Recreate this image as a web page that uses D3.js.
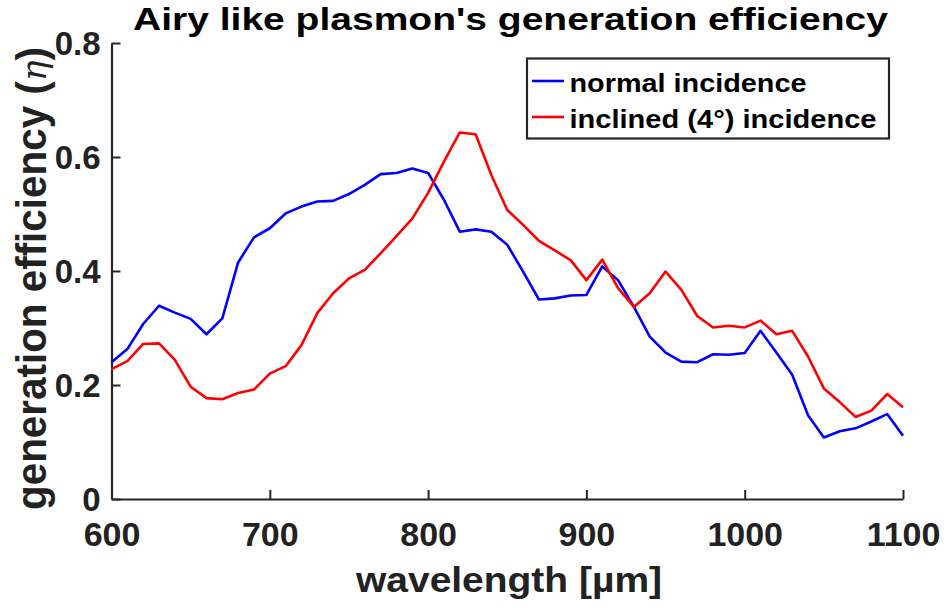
<!DOCTYPE html>
<html>
<head>
<meta charset="utf-8">
<script src="https://cdn.jsdelivr.net/npm/d3@7"></script>
<style>
  html, body { margin: 0; padding: 0; background: #fff; }
  svg { display: block; font-family: "Liberation Sans", Arial, Helvetica, sans-serif; }
</style>
</head>
<body>
<svg id="chart" width="944" height="608"></svg>
<script>
const wavelengths = [600,610,620,630,640,650,660,670,680,690,700,710,720,730,740,750,760,770,780,790,800,810,820,830,840,850,860,870,880,890,900,910,920,930,940,950,960,970,980,990,1000,1010,1020,1030,1040,1050,1060,1070,1080,1090,1100];
const normalIncidence = [0.240,0.263,0.307,0.339,0.327,0.316,0.289,0.317,0.415,0.459,0.475,0.501,0.513,0.522,0.523,0.535,0.551,0.570,0.572,0.580,0.572,0.525,0.469,0.473,0.469,0.446,0.399,0.350,0.352,0.357,0.358,0.408,0.384,0.337,0.285,0.257,0.241,0.240,0.254,0.253,0.256,0.295,0.257,0.218,0.147,0.108,0.119,0.124,0.136,0.149,0.111];
const inclinedIncidence = [0.228,0.242,0.272,0.273,0.244,0.197,0.177,0.175,0.186,0.192,0.220,0.233,0.270,0.326,0.361,0.387,0.402,0.431,0.461,0.492,0.537,0.592,0.643,0.640,0.568,0.507,0.481,0.453,0.436,0.419,0.384,0.420,0.370,0.337,0.361,0.399,0.367,0.321,0.301,0.304,0.301,0.313,0.289,0.295,0.250,0.194,0.170,0.144,0.155,0.184,0.161];
const xTicks = [600,700,800,900,1000,1100];
const xTickLabels = ["600","700","800","900","1000","1100"];
const yTicks = [0,0.2,0.4,0.6,0.8];
const yTickLabels = ["0","0.2","0.4","0.6","0.8"];
const seriesNames = ["normal incidence","inclined (4°) incidence"];
const seriesColors = ["#0000ff","#ff0000"];
const titleText = "Airy like plasmon's generation efficiency";
const xLabelText = "wavelength [µm]";
const yLabelMain = "generation efficiency (";
const yLabelSymbol = "η";
const yLabelEnd = ")";

const svg = d3.select("#chart");
const L = 111.5, R = 903, T = 43, B = 499;
const x = d3.scaleLinear().domain([600,1100]).range([L,R]);
const y = d3.scaleLinear().domain([0,0.8]).range([B,T]);
const axisColor = "#262626";

// axes
const xAxis = d3.axisBottom(x).tickValues(xTicks).tickFormat((d,i)=>xTickLabels[i]).tickSizeInner(-9).tickSizeOuter(0);
const gx = svg.append("g").attr("transform", `translate(0,${B})`).call(xAxis);
gx.select(".domain").attr("stroke", axisColor).attr("stroke-width", 2.2);
gx.selectAll(".tick line").attr("stroke", axisColor).attr("stroke-width", 2);
gx.selectAll(".tick text").attr("fill", "#222").attr("font-size", 34).attr("font-weight", "bold")
  .attr("dy", 0).attr("y", 47);

const yAxis = d3.axisLeft(y).tickValues(yTicks).tickFormat((d,i)=>yTickLabels[i]).tickSizeInner(-9).tickSizeOuter(0);
const gy = svg.append("g").attr("transform", `translate(${L},0)`).call(yAxis);
gy.select(".domain").attr("stroke", axisColor).attr("stroke-width", 2.2);
gy.selectAll(".tick line").attr("stroke", axisColor).attr("stroke-width", 2);
gy.selectAll(".tick text").attr("fill", "#222").attr("font-size", 33).attr("font-weight", "bold")
  .attr("dy", "0.36em").attr("x", -11);

// lines
const series = [normalIncidence, inclinedIncidence];
const line = d3.line().x((d,i)=>x(wavelengths[i])).y(d=>y(d));
series.forEach((s,k)=>{
  svg.append("path").datum(s).attr("d", line).attr("fill","none")
    .attr("stroke", seriesColors[k]).attr("stroke-width", 2.6).attr("stroke-linejoin","round");
});

// title
svg.append("text").attr("x", 133).attr("y", 30).attr("font-size", 32).attr("font-weight","bold")
  .attr("fill","#000").attr("textLength", 755).attr("lengthAdjust","spacingAndGlyphs").text(titleText);

// x label
svg.append("text").attr("x", 356).attr("y", 592).attr("font-size", 35).attr("font-weight","bold")
  .attr("fill","#222").attr("textLength", 306).attr("lengthAdjust","spacingAndGlyphs").text(xLabelText);

// y label
const yl = svg.append("text").attr("transform", "translate(46,510) rotate(-90)").attr("x", 0).attr("y", 0)
  .attr("font-size", 42).attr("font-weight","bold").attr("fill","#222")
  .attr("textLength", 463).attr("lengthAdjust","spacingAndGlyphs");
yl.append("tspan").text(yLabelMain);
yl.append("tspan").attr("font-style","italic").attr("font-weight","normal").attr("font-family","'DejaVu Serif', serif").attr("font-size", 36).text(yLabelSymbol);
yl.append("tspan").text(yLabelEnd);

// legend
const lg = svg.append("g");
lg.append("rect").attr("x", 527).attr("y", 58.5).attr("width", 362).attr("height", 80)
  .attr("fill","#fff").attr("stroke", axisColor).attr("stroke-width", 2.2);
const rowsY = [81, 117];
const textBase = [92, 128];
const textLens = [237, 307];
seriesNames.forEach((n,k)=>{
  lg.append("line").attr("x1", 532).attr("x2", 564).attr("y1", rowsY[k]).attr("y2", rowsY[k])
    .attr("stroke", seriesColors[k]).attr("stroke-width", 2.6);
  lg.append("text").attr("x", 569.5).attr("y", textBase[k]).attr("font-size", 25).attr("font-weight","bold")
    .attr("fill","#000").attr("textLength", textLens[k]).attr("lengthAdjust","spacingAndGlyphs").text(n);
});
</script>
</body>
</html>
